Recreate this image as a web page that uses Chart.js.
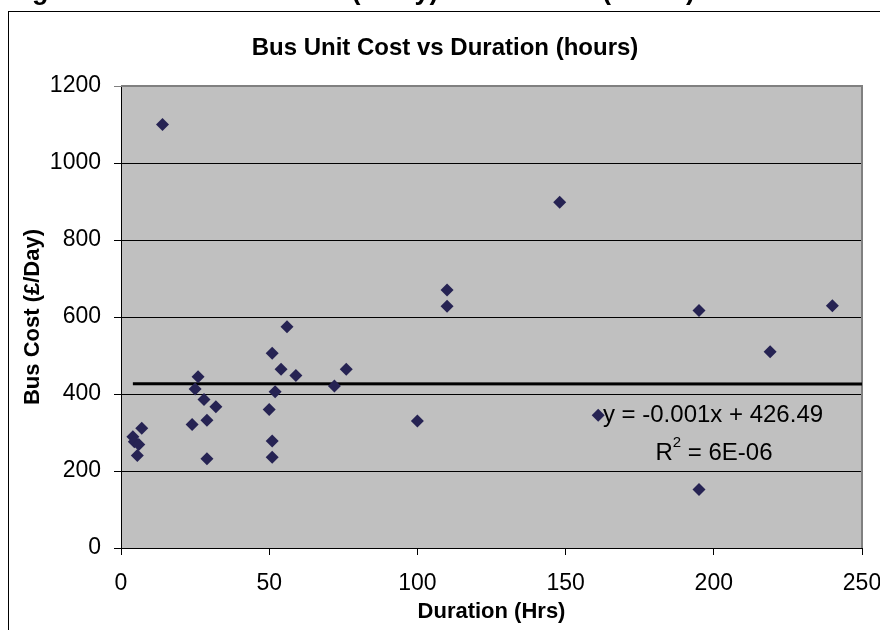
<!DOCTYPE html>
<html>
<head>
<meta charset="utf-8">
<title>Bus Unit Cost vs Duration (hours)</title>
<script src="https://cdn.jsdelivr.net/npm/chart.js@4.4.1/dist/chart.umd.min.js"></script>
<style>
  html, body { margin: 0; padding: 0; background: #fff; }
  #wrap { width: 880px; height: 630px; }
</style>
</head>
<body>
<div id="wrap"><canvas id="busChart" width="880" height="630"></canvas></div>
<script>
// values
const durationHrs = [7, 4, 4.5, 6, 5.5, 14, 26, 25, 28, 32, 24, 29, 29,
  56, 51, 54, 59, 52, 50, 51, 51, 72, 76, 100, 110, 110, 148, 161, 195, 195, 219, 240];
const busCostPerDay = [311, 289, 276, 269, 240, 1100, 445, 413, 386, 367, 321, 332, 232,
  575, 506, 464, 448, 406, 360, 278, 236, 421, 464, 330, 670, 628, 898, 345, 617, 152, 510, 629];

// linear trend line as labelled on the chart
const trendX = [4, 250];
const trendY = [426.5, 426.2];

const xTicks = [0, 50, 100, 150, 200, 250];
const yTicks = [0, 200, 400, 600, 800, 1000, 1200];

const FONT = '"Liberation Sans", Arial, sans-serif';
const navy = '#262353';

// frame, caption, title, plot background and trend equation
const decorations = {
  id: 'decorations',
  beforeDraw(chart) {
    const c = chart.ctx;
    const a = chart.chartArea;
    c.save();
    c.fillStyle = '#fff';
    c.fillRect(0, 0, chart.width, chart.height);
    // outer chart border
    c.strokeStyle = '#000';
    c.lineWidth = 1;
    c.strokeRect(8.5, 11.5, 900, 700);
    // caption above the chart (mostly cut off)
    c.fillStyle = '#000';
    c.font = 'bold 27px ' + FONT;
    c.textAlign = 'left';
    c.textBaseline = 'alphabetic';
    c.fillText('Figure 3.1 – Bus Unit Cost (£/day) vs Duration (hours)', 8, -1);
    // chart title
    c.font = 'bold 24px ' + FONT;
    c.textAlign = 'center';
    c.textBaseline = 'middle';
    c.fillText('Bus Unit Cost vs Duration (hours)', 445, 48);
    // plot area
    c.fillStyle = '#c0c0c0';
    c.fillRect(a.left, a.top, a.right - a.left, a.bottom - a.top);
    c.restore();
  },
  beforeDatasetsDraw(chart) {
    const c = chart.ctx;
    const a = chart.chartArea;
    c.save();
    c.strokeStyle = '#808080';
    c.lineWidth = 2;
    c.beginPath();
    c.moveTo(a.left, a.top);
    c.lineTo(a.right, a.top);
    c.lineTo(a.right, a.bottom);
    c.stroke();
    c.restore();
  },
  afterDatasetsDraw(chart) {
    const c = chart.ctx;
    c.save();
    c.fillStyle = '#000';
    c.font = '24px ' + FONT;
    c.textBaseline = 'middle';
    c.textAlign = 'center';
    c.fillText('y = -0.001x + 426.49', 713, 415);
    // R squared with superscript
    const r = 'R', rest = ' = 6E-06';
    const wR = c.measureText(r).width;
    const wRest = c.measureText(rest).width;
    c.font = '15px ' + FONT;
    const wSup = c.measureText('2').width;
    let x = 714 - (wR + wSup + wRest) / 2;
    c.textAlign = 'left';
    c.font = '24px ' + FONT;
    c.fillText(r, x, 453);
    c.font = '15px ' + FONT;
    c.fillText('2', x + wR, 443);
    c.font = '24px ' + FONT;
    c.fillText(rest, x + wR + wSup, 453);
    c.restore();
  }
};

const ctx = document.getElementById('busChart').getContext('2d');
const busChart = new Chart(ctx, {
  type: 'scatter',
  data: {
    datasets: [{
      label: 'Bus Cost',
      data: durationHrs.map((d, i) => ({ x: d, y: busCostPerDay[i] })),
      pointStyle: 'rectRot',
      pointRadius: 6.5,
      pointHoverRadius: 6.5,
      backgroundColor: navy,
      borderColor: navy,
      borderWidth: 0
    }, {
      label: 'Linear (Bus Cost)',
      data: trendX.map((d, i) => ({ x: d, y: trendY[i] })),
      showLine: true,
      borderColor: '#000',
      borderWidth: 3,
      pointRadius: 0,
      fill: false
    }]
  },
  options: {
    responsive: false,
    animation: false,
    layout: { padding: { left: 8, right: 18, top: 86, bottom: 0 } },
    plugins: {
      legend: { display: false },
      title: { display: false },
      tooltip: { enabled: false }
    },
    scales: {
      x: {
        type: 'linear',
        min: 0,
        max: 250,
        afterBuildTicks: s => { s.ticks = xTicks.map(v => ({ value: v })); },
        afterFit: s => { s.height = 82; s.paddingLeft = 0; s.paddingRight = 0; },
        grid: { drawOnChartArea: false, drawTicks: true, tickLength: 7, color: '#000' },
        border: { color: '#000', width: 1 },
        ticks: {
          color: '#000', padding: 15, maxRotation: 0,
          font: { family: FONT, size: 23 },
          callback: v => String(v)
        },
        title: {
          display: true,
          text: 'Duration (Hrs)',
          color: '#000',
          font: { family: FONT, size: 22, weight: 'bold' },
          padding: { top: 0, bottom: 5 }
        }
      },
      y: {
        type: 'linear',
        min: 0,
        max: 1200,
        afterBuildTicks: s => { s.ticks = yTicks.map(v => ({ value: v })); },
        afterFit: s => { s.width = 113; s.paddingTop = 0; s.paddingBottom = 0; },
        grid: {
          drawTicks: true,
          tickLength: 7,
          color: c => (c.tick && c.tick.value === 1200 ? '#808080' : '#000')
        },
        border: { color: '#000', width: 1 },
        ticks: {
          color: '#000', padding: 13,
          font: { family: FONT, size: 23 },
          callback: v => String(v)
        },
        title: {
          display: true,
          text: 'Bus Cost (£/Day)',
          color: '#000',
          font: { family: FONT, size: 22, weight: 'bold' },
          padding: { top: 12, bottom: 0 }
        }
      }
    }
  },
  plugins: [decorations]
});
</script>
</body>
</html>
